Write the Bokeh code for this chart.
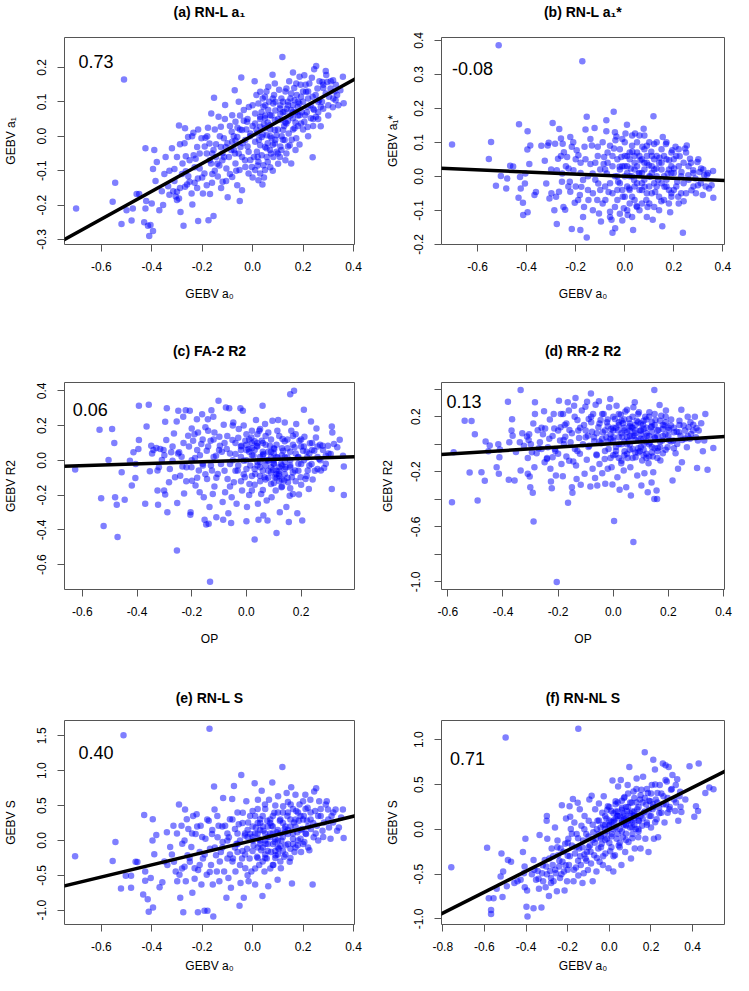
from bokeh.plotting import figure
from bokeh.layouts import column, row
from bokeh.models import Slope, Label, FixedTicker, Range1d, PrintfTickFormatter, LinearAxis
from bokeh.embed import file_html
from bokeh.resources import INLINE

# ---------------- data ----------------
titles = ["(a) RN-L a\u2081", "(b) RN-L a\u2081*", "(c) FA-2 R2", "(d) RR-2 R2", "(e) RN-L S", "(f) RN-NL S"]
x_labels = ["GEBV a\u2080", "GEBV a\u2080", "OP", "OP", "GEBV a\u2080", "GEBV a\u2080"]
y_labels = ["GEBV a\u2081", "GEBV a\u2081*", "GEBV R2", "GEBV R2", "GEBV S", "GEBV S"]
r_values = ["0.73", "-0.08", "0.06", "0.13", "0.40", "0.71"]
# regression line: (intercept, slope)
fits = [(0.002, 0.405), (0.0004, -0.031), (0.0, 0.051), (0.004, 0.127), (-0.001, 0.871), (0.0, 1.168)]

a_pts = [(-0.70,-0.21),(-0.545,-0.135),(-0.555,-0.19),(-0.51,0.165),(-0.52,-0.255),(-0.50,-0.215),(-0.48,-0.245),(-0.475,-0.21),(-0.46,-0.168),(-0.45,-0.168),(-0.43,-0.25),(-0.425,-0.035),(-0.425,-0.21),(-0.422,-0.188),(-0.415,-0.26),(-0.41,-0.29),(-0.405,-0.258),
(-0.395,-0.275),(-0.40,-0.195),(-0.39,-0.04),(-0.395,-0.095),(-0.38,-0.075),(-0.385,-0.13),(-0.37,-0.215),(-0.355,-0.20),(-0.345,-0.06),(-0.335,-0.145),(-0.33,-0.10),(-0.32,-0.035),(-0.315,-0.16),(-0.31,-0.095),(-0.305,-0.175),(-0.30,-0.185),
(-0.292,0.031),(-0.268,0.023),(-0.288,-0.023),(-0.265,-0.058),(-0.256,-0.002),(-0.235,0.01),(-0.278,-0.079),(-0.265,-0.102),(-0.25,-0.132),(-0.288,-0.15),(-0.30,-0.161),(-0.292,-0.181),(-0.286,-0.22),(-0.274,-0.26),(-0.239,-0.198),(-0.23,-0.135),(-0.217,-0.123),(-0.21,-0.094),(-0.226,-0.065),(-0.234,-0.055),(-0.22,-0.031),(-0.203,-0.006),(-0.216,0.02),(-0.268,-0.147),(-0.255,-0.116),(-0.242,-0.166),
(-0.153,0.112),(-0.164,0.066),(-0.177,0.025),(-0.187,-0.004),(-0.171,-0.021),(-0.145,-0.023),(-0.126,0.028),(-0.114,-0.006),(-0.109,0.091),(-0.135,0.057),(-0.182,-0.05),(-0.165,-0.079),(-0.191,-0.108),(-0.182,-0.142),(-0.161,-0.135),(-0.197,-0.166),(-0.169,-0.168),(-0.155,-0.232),(-0.175,-0.244),(-0.216,-0.246),(-0.138,-0.117),(-0.119,-0.132),(-0.132,-0.085),(-0.113,-0.06),(-0.145,-0.06),(-0.104,-0.094),(-0.126,-0.031),(-0.107,-0.031),
(-0.071,0.134),(-0.045,0.171),(-0.055,0.10),(-0.035,0.076),(-0.081,0.061),(-0.068,0.042),(-0.083,0.013),(-0.061,-0.002),(-0.042,0.018),(-0.022,0.042),(-0.009,0.008),(-0.029,-0.011),(-0.048,-0.031),(-0.074,-0.04),(-0.094,-0.06),(-0.068,-0.079),(-0.042,-0.06),(-0.016,-0.045),(-0.052,-0.098),(-0.029,-0.089),(-0.009,-0.069),(-0.081,-0.118),(-0.099,-0.177),(-0.051,-0.188),(-0.042,-0.157),(-0.061,-0.142),(-0.016,-0.108),(-0.003,-0.089),(-0.068,-0.012),(-0.081,-0.016),
(0.008,0.16),(0.03,0.129),(0.049,0.115),(0.062,0.144),(0.079,0.179),(0.088,0.153),(0.023,0.095),(0.043,0.086),(0.062,0.076),(0.082,0.095),(0.01,0.066),(0.03,0.057),(0.049,0.052),(0.069,0.061),(0.088,0.047),(0.01,0.037),(0.03,0.028),(0.049,0.023),(0.069,0.032),(0.088,0.018),(0.017,0.008),(0.036,-0.002),(0.056,0.003),(0.075,-0.006),(0.095,0.003),(0.01,-0.016),(0.03,-0.026),(0.049,-0.031),(0.069,-0.04),(0.088,-0.021),(0.017,-0.045),(0.036,-0.055),(0.056,-0.06),(0.023,-0.074),(0.043,-0.084),(0.01,-0.098),(0.03,-0.108),(0.049,-0.098),(0.039,-0.14),(0.023,-0.128),(0.073,-0.05),(0.082,-0.06),(0.101,-0.08),
(0.118,0.23),(0.16,0.185),(0.134,0.139),(0.153,0.124),(0.173,0.153),(0.186,0.173),(0.114,0.11),(0.14,0.1),(0.166,0.105),(0.192,0.115),(0.108,0.081),(0.127,0.071),(0.153,0.076),(0.179,0.086),(0.114,0.047),(0.134,0.037),(0.16,0.052),(0.186,0.061),(0.121,0.018),(0.143,0.008),(0.166,0.023),(0.127,-0.011),(0.147,-0.026),(0.173,-0.006),(0.114,-0.04),(0.134,-0.05),(0.153,-0.079),(0.186,-0.024),(0.108,-0.06),(0.192,0.037),
(0.205,0.177),(0.244,0.195),(0.252,0.204),(0.225,0.153),(0.257,0.139),(0.277,0.158),(0.212,0.129),(0.238,0.115),(0.264,0.105),(0.29,0.124),(0.218,0.086),(0.244,0.076),(0.27,0.086),(0.208,0.061),(0.231,0.052),(0.205,0.042),(0.27,0.029),(0.238,-0.061),(0.218,0.027),(0.251,0.057),
(0.292,0.178),(0.296,0.158),(0.319,0.163),(0.358,0.173),(0.361,0.096),(0.318,0.084),(0.335,0.12),(0.348,0.134),(0.309,0.139),(0.329,0.105),(0.303,0.115),
(0.0,0.03),(0.05,0.06),(0.1,0.02),(0.12,0.07),(0.07,0.0),(0.03,0.05),(-0.02,-0.03),(0.14,0.09),(0.09,0.1),(0.11,-0.03),(0.06,-0.02),(0.04,0.11),(0.13,0.13),(0.16,0.07),(0.18,0.1),(0.08,-0.1),(0.02,-0.06),(-0.05,0.02),(-0.07,-0.05),(0.2,0.13),(0.22,0.11),(0.24,0.08),(0.26,0.1),(0.28,0.15),(0.17,0.04),(-0.12,-0.07),(-0.15,-0.1),(-0.16,-0.05),(-0.09,-0.11),(0.0,-0.12),
(-0.02,0.05),(0.0,0.09),(0.015,0.12),(0.025,-0.01),(0.035,0.07),(0.045,0.035),(0.055,0.13),(0.06,-0.075),(0.065,0.1),(0.07,0.02),(0.075,0.06),(0.08,-0.025),(0.085,0.12),(0.09,0.075),(0.095,-0.045),(0.1,0.05),(0.105,0.135),(0.11,0.065),(0.115,0.0),(0.12,0.1),(0.125,0.03),(0.13,-0.07),(0.135,0.08),(0.14,0.045),(0.145,0.16),(0.15,0.11),(0.155,-0.01),(0.16,0.09),(0.165,0.14),(0.17,0.07),(0.175,0.12),(0.18,0.03),(0.185,0.095),(0.19,0.15),(0.195,0.07),(0.2,0.1),(0.21,0.15),(0.215,0.07),(0.22,0.13),(0.23,0.09),(0.235,0.17),(0.24,0.05),(0.25,0.12),(0.26,0.07),(0.265,0.16),(0.275,0.1),(0.28,0.14),(0.3,0.09),(0.31,0.16),(0.325,0.13),
(-0.01,0.0),(-0.015,0.085),(-0.025,0.02),(-0.03,-0.07),(-0.035,0.045),(-0.04,-0.02),(-0.05,0.06),(-0.055,-0.05),(-0.06,0.025),(-0.065,-0.1),(-0.075,0.0),(-0.085,-0.04),(-0.09,0.03),(-0.1,-0.02),(-0.105,-0.13),(-0.11,0.05),(-0.12,-0.05),(-0.125,-0.15),(-0.13,0.0),(-0.14,-0.08),(-0.15,0.02),(-0.155,-0.04),(-0.16,-0.11),(-0.17,-0.07),(-0.18,0.0),(-0.19,-0.03),(-0.2,-0.12),(-0.21,-0.05),(-0.22,-0.15),(-0.23,-0.09),(-0.24,0.0),(-0.25,-0.07),(-0.26,-0.14),(-0.27,-0.02),(-0.28,-0.11),(-0.3,-0.06),(-0.31,-0.13),(-0.33,-0.17),(-0.35,-0.11),(-0.36,-0.16),
(0.005,-0.06),(0.015,0.02),(0.02,-0.085),(0.04,0.005),(0.045,-0.12),(0.05,0.09),(0.055,-0.035),(0.06,0.04),(0.07,-0.09),(0.08,0.11),(0.09,-0.01),(0.1,-0.05),(0.11,0.09),(0.12,-0.01),(0.13,0.04),(0.14,-0.03),(0.15,0.06),(0.16,0.02),(0.17,-0.04),(0.18,0.06),(0.2,0.02),(0.22,0.0),(0.24,0.03),(0.26,0.05),(0.28,0.08),(0.3,0.06),(0.32,0.11),(0.34,0.09),(0.33,0.15),(0.29,0.19)]

b_pts = [(-0.704,0.094),(-0.514,0.386),(-0.173,0.339),(-0.545,0.101),(-0.554,0.051),(-0.505,0.001),(-0.525,-0.028),(-0.483,-0.036),(-0.467,0.031),(-0.455,0.029),(-0.479,-0.006),
(-0.431,0.153),(-0.396,0.133),(-0.385,0.091),(-0.397,0.079),(-0.389,0.036),(-0.405,0.008),(-0.427,-0.002),(-0.424,-0.036),(-0.433,-0.063),(-0.415,-0.078),(-0.414,-0.114),(-0.396,-0.106),(-0.407,-0.021),
(-0.362,-0.046),(-0.368,-0.055),(-0.34,0.09),(-0.326,0.046),(-0.314,0.091),(-0.32,-0.021),(-0.31,0.099),(-0.294,0.157),(-0.284,0.096),(-0.299,-0.05),(-0.307,-0.065),(-0.287,-0.1),(-0.277,-0.14),(-0.267,0.139),(-0.26,0.111),(-0.253,0.096),(-0.248,0.071),(-0.272,0.052),(-0.277,0.018),(-0.255,0.008),(-0.256,-0.016),(-0.268,-0.045),(-0.243,-0.098),(-0.222,-0.045),(-0.224,-0.016),(-0.216,-0.155),(-0.222,0.116),(-0.216,0.087),(-0.235,0.057),(-0.229,0.023),(-0.209,0.018),(-0.196,0.077),(-0.189,0.062),(-0.204,-0.078),(-0.181,-0.158),(-0.183,-0.055),(-0.177,-0.031),(-0.17,-0.011),(-0.164,0.087),(-0.16,0.138),(-0.155,0.175),(-0.155,-0.18),(-0.166,-0.09),(-0.148,-0.07),(-0.14,0.036),(-0.131,0.008),(-0.134,0.091),(-0.123,0.142),(-0.11,0.087),(-0.108,-0.021),(-0.112,-0.07),(-0.105,-0.109),(-0.097,-0.133),
(-0.084,0.057),(-0.075,0.133),(-0.075,0.165),(-0.086,0.036),(-0.073,0.008),(-0.066,-0.046),(-0.079,-0.07),(-0.06,-0.104),(-0.054,-0.128),(-0.05,-0.166),(-0.045,0.19),(-0.044,0.082),(-0.038,0.106),(-0.034,0.117),(-0.039,-0.153),(-0.027,-0.016),(-0.021,0.028),(-0.014,0.057),(-0.008,-0.06),(-0.004,-0.094),(0.003,0.126),(0.009,0.152),(0.012,-0.114),(0.018,-0.036),(0.025,0.023),(0.031,0.072),(0.038,-0.011),(0.042,0.126),(0.034,-0.158),(0.048,-0.087),(0.057,0.008),(0.064,0.047),(0.072,0.087),(0.077,0.14),(0.081,-0.031),(0.088,-0.07),(0.093,-0.09),(0.098,0.033),(0.103,-0.001),(0.108,0.072),(0.114,-0.128),(0.117,0.177),(0.12,0.095),(0.124,-0.046),(0.129,0.023),(0.136,-0.011),(0.142,0.055),(0.149,-0.073),(0.153,-0.147),(0.155,0.116),(0.162,-0.031),(0.168,0.095),(0.175,0.008),(0.181,0.047),(0.185,-0.106),(0.19,-0.05),(0.194,0.077),(0.201,0.023),(0.207,0.087),(0.214,-0.016),(0.218,-0.06),(0.224,0.059),(0.231,0.013),(0.237,-0.166),(0.24,-0.073),(0.246,0.082),(0.253,0.091),(0.259,0.003),(0.266,0.052),(0.272,-0.041),(0.279,0.018),(0.288,-0.006),(0.296,0.042),(0.298,-0.026),(0.305,0.013),(0.311,0.023),(0.318,-0.055),(0.324,0.003),(0.335,0.005),(0.344,-0.036),(0.354,-0.026),(0.36,0.016),(0.361,-0.063),
(-0.05,0.03),(-0.03,-0.04),(0.0,0.0),(0.02,0.05),(0.05,-0.02),(0.07,0.01),(0.09,-0.05),(0.11,0.03),(0.04,-0.07),(0.06,0.06),(-0.02,0.02),(0.01,-0.03),(0.03,0.09),(0.08,0.04),(0.12,-0.02),(0.15,0.02),(0.14,-0.06),(0.17,-0.03),(0.19,0.01),(0.2,-0.04),(0.22,0.03),(0.24,-0.02),(0.0,0.06),(-0.06,-0.02),(-0.08,0.02),(-0.1,-0.04),(-0.12,0.04),(-0.04,-0.09),(0.02,-0.08),(0.06,-0.1),(0.1,-0.08),(0.13,0.06),(0.05,0.1),(-0.01,0.11),(0.08,0.12),(0.03,-0.12),(-0.02,-0.11),(0.16,0.06),(0.18,-0.08),(0.21,0.06),(0.26,0.03),(0.28,-0.03),(0.25,-0.05),(0.09,0.09),(-0.07,0.07),(-0.15,0.0),(-0.18,0.04),(-0.2,-0.03),(-0.13,-0.05),(0.04,0.02),(0.07,-0.04),(0.01,0.03),(-0.03,0.0),
(-0.3,0.02),(-0.28,-0.06),(-0.26,0.06),(-0.25,-0.09),(-0.24,0.03),(-0.23,-0.03),(-0.21,0.1),(-0.2,0.05),(-0.19,-0.07),(-0.18,0.01),(-0.17,-0.12),(-0.16,0.05),(-0.15,-0.04),(-0.14,0.11),(-0.13,-0.1),(-0.12,-0.01),(-0.11,0.06),(-0.1,0.02),(-0.09,-0.08),(-0.09,0.1),(-0.08,-0.03),(-0.07,0.04),(-0.06,-0.12),(-0.06,0.09),(-0.05,-0.05),(-0.05,0.06),(-0.04,0.0),(-0.04,0.13),(-0.03,-0.07),(-0.03,0.05),(-0.02,-0.02),(-0.02,0.08),(-0.01,-0.13),(-0.01,0.03),(0.0,-0.06),(0.0,0.1),(0.01,0.01),(0.01,-0.1),(0.02,0.07),(0.02,-0.04),(0.03,0.0),(0.03,0.12),(0.04,-0.03),(0.04,0.06),(0.05,0.03),(0.05,-0.09),(0.06,-0.04),(0.06,0.12),(0.07,0.05),(0.07,-0.08),(0.08,-0.01),(0.08,0.08),(0.09,0.04),(0.09,-0.12),(0.1,0.0),(0.1,0.1),(0.11,-0.05),(0.11,0.06),(0.12,0.02),(0.12,-0.09),(0.13,-0.03),(0.13,0.1),(0.14,0.04),(0.14,-0.1),(0.15,-0.02),(0.15,0.08),(0.16,0.0),(0.16,-0.07),(0.17,0.05),(0.17,0.1),(0.18,-0.04),(0.18,0.02),(0.19,0.07),(0.19,-0.06),(0.2,0.01),(0.2,0.05),(0.21,-0.03),(0.22,-0.08),(0.22,0.08),(0.23,0.0),(0.23,-0.05),(0.24,0.04),(0.25,0.07),(0.26,-0.01),(0.27,0.04),(0.28,0.01),(0.29,-0.05),(0.3,0.05),(0.31,-0.02),(0.32,0.02),(0.33,-0.03),(0.34,0.01),(0.0,0.03),(0.02,0.0),(0.04,0.04),(0.06,0.01),(0.08,0.02),(0.1,-0.03),(0.12,0.05),(0.03,-0.06),(0.07,-0.02),(0.11,0.01),(0.09,0.06),(0.05,0.07),(0.01,0.06),(-0.01,-0.04),(0.13,0.0),(0.15,0.04),(0.17,-0.01),(0.19,0.03)]

c_pts = [(-0.626,-0.053),(-0.537,0.176),(-0.491,0.18),(-0.504,0.002),(-0.483,0.1),(-0.531,-0.218),(-0.522,-0.378),(-0.48,-0.212),(-0.474,-0.256),(-0.471,-0.441),(-0.456,-0.068),(-0.445,-0.226),(-0.426,-0.002),(-0.419,-0.145),(-0.413,0.046),(-0.406,-0.101),(-0.395,0.065),(-0.393,0.117),(-0.393,0.314),(-0.405,-0.021),(-0.37,-0.25),(-0.365,0.195),(-0.357,0.32),(-0.353,-0.063),(-0.348,0.084),(-0.345,0.04),(-0.329,0.071),(-0.325,-0.059),(-0.325,-0.174),(-0.323,-0.256),(-0.315,0.065),(-0.309,0.002),(-0.303,0.059),(-0.301,-0.174),(-0.297,0.222),(-0.293,0.117),(-0.297,-0.197),(-0.291,0.3),(-0.289,-0.298),(-0.283,-0.126),(-0.275,0.046),(-0.27,-0.002),(-0.265,0.155),(-0.261,-0.097),(-0.255,0.224),(-0.254,-0.518),(-0.253,-0.245),(-0.249,0.285),(-0.246,0.046),(-0.242,-0.088),(-0.237,0.021),(-0.234,-0.036),(-0.231,0.251),(-0.228,-0.191),(-0.222,0.289),(-0.219,-0.04),(-0.213,0.142),(-0.207,0.285),(-0.204,-0.298),(-0.205,-0.313),(-0.2,0.184),(-0.201,-0.04),(-0.199,-0.117),(-0.195,0.113),(-0.188,0.013),(-0.186,-0.145),(-0.181,0.237),(-0.177,0.161),(-0.174,-0.059),(-0.171,-0.183),(-0.165,0.094),(-0.162,0.266),(-0.159,-0.03),(-0.156,-0.212),(-0.153,-0.342),(-0.15,0.19),(-0.147,-0.369),(-0.145,0.055),(-0.144,-0.107),(-0.141,0.237),(-0.138,-0.365),(-0.135,-0.269),(-0.133,-0.699),(-0.131,0.113),(-0.128,0.289),(-0.126,-0.059),(-0.123,-0.193),(-0.121,0.251),(-0.117,0.161),(-0.117,-0.151),(-0.111,0.027),(-0.11,-0.327),(-0.105,-0.078),(-0.102,0.343),(-0.099,0.136),(-0.097,0.084),(-0.093,-0.021),(-0.087,-0.24),(-0.085,-0.342),(-0.083,0.205),(-0.078,-0.183),(-0.075,0.304),(-0.072,0.065),(-0.069,-0.107),(-0.066,-0.304),(-0.063,0.3),(-0.06,-0.021),(-0.056,-0.361),(-0.054,-0.212),(-0.051,0.117),(-0.048,0.218),(-0.046,-0.126),(-0.04,0.036),(-0.036,-0.25),(-0.032,-0.059),(-0.028,0.18),(-0.022,0.3),(-0.018,0.084),(-0.016,-0.174),(-0.013,0.285),(-0.01,-0.002),(-0.006,-0.097),(-0.004,0.113),(0.0,-0.35),(0.002,-0.269),(0.008,0.065),(0.011,-0.136),(0.014,-0.03),(0.018,0.132),(0.02,-0.174),(0.026,0.027),(0.03,-0.455),(0.032,-0.078),(0.035,0.232),(0.038,0.084),(0.042,-0.25),(0.044,-0.342),(0.047,0.171),(0.05,-0.04),(0.054,-0.193),(0.056,0.113),(0.059,0.314),(0.062,0.036),(0.062,-0.317),(0.066,-0.097),(0.068,0.209),(0.074,-0.231),(0.077,-0.346),(0.08,-0.002),(0.086,0.084),(0.09,-0.136),(0.092,-0.212),(0.095,0.228),(0.098,-0.055),(0.102,0.065),(0.104,-0.097),(0.107,-0.174),(0.11,-0.418),(0.113,0.171),(0.114,0.017),(0.116,0.232),(0.119,-0.078),(0.122,-0.298),(0.126,-0.021),(0.128,-0.155),(0.132,0.123),(0.134,0.055),(0.138,-0.116),(0.14,0.218),(0.143,-0.04),(0.146,-0.269),(0.15,0.017),(0.152,-0.126),(0.155,-0.355),(0.158,-0.203),(0.16,0.381),(0.164,0.171),(0.166,-0.097),(0.17,-0.193),(0.174,0.4),(0.176,0.075),(0.178,-0.059),(0.182,0.209),(0.186,-0.304),(0.188,0.017),(0.192,-0.197),(0.194,0.113),(0.198,-0.097),(0.2,-0.021),(0.204,-0.346),(0.207,0.055),(0.21,0.291),(0.212,0.136),(0.216,-0.107),(0.222,0.017),(0.224,-0.059),(0.228,-0.165),(0.232,0.098),(0.236,0.224),(0.238,-0.021),(0.242,-0.11),(0.248,0.055),(0.254,0.132),(0.256,0.184),(0.26,-0.049),(0.266,0.008),(0.269,0.09),(0.272,-0.059),(0.278,0.084),(0.284,-0.044),(0.29,0.027),(0.298,0.084),(0.308,0.036),(0.312,0.195),(0.314,0.161),(0.312,-0.165),(0.32,0.094),(0.332,0.075),(0.341,0.119),(0.353,0.027),(0.356,-0.036),(0.356,-0.199),
(-0.02,0.06),(0.0,0.09),(0.02,0.03),(0.04,-0.01),(0.06,0.1),(0.08,0.05),(0.1,-0.02),(0.12,-0.06),(0.14,0.02),(0.16,-0.04),(0.11,-0.1),(0.09,-0.07),(0.05,0.02),(0.03,-0.05),(0.01,0.12),(-0.04,0.1),(0.13,0.07),(0.15,0.12),(0.17,0.14),(0.07,-0.03),(0.1,0.04),(0.12,-0.12),(0.14,-0.08),(0.06,-0.06),(0.0,0.0),(-0.06,0.04),(-0.08,0.1),(0.18,0.04),(0.2,0.08),(0.22,0.05),(0.19,-0.02),(0.02,0.07),(0.04,0.15),(0.08,-0.1),(0.11,0.09),(0.13,-0.03),(0.16,0.05),(0.09,0.02),(-0.03,-0.03),(-0.1,0.06),(-0.12,0.02),(-0.14,0.08),(-0.16,-0.02),(-0.18,0.06),(0.05,-0.12),(0.03,0.11),(-0.01,-0.08),(0.07,0.14),(0.24,0.06),(0.26,0.02),
(-0.09,0.05),(-0.08,-0.06),(-0.07,0.14),(-0.06,-0.15),(-0.05,0.0),(-0.05,0.2),(-0.04,-0.06),(-0.03,0.13),(-0.02,-0.12),(-0.02,0.02),(-0.01,0.2),(0.0,-0.05),(0.0,0.15),(0.01,0.05),(0.01,-0.2),(0.02,-0.09),(0.02,0.17),(0.03,0.06),(0.03,-0.14),(0.04,0.1),(0.04,-0.03),(0.05,0.18),(0.05,-0.09),(0.06,0.03),(0.06,-0.17),(0.07,0.09),(0.07,-0.11),(0.08,0.0),(0.08,0.16),(0.09,-0.04),(0.09,0.12),(0.1,-0.13),(0.1,0.07),(0.11,-0.06),(0.11,0.02),(0.12,0.14),(0.12,-0.09),(0.13,-0.15),(0.13,0.03),(0.14,0.11),(0.14,-0.05),(0.15,-0.1),(0.15,0.07),(0.16,-0.16),(0.16,0.0),(0.17,0.09),(0.17,-0.07),(0.18,-0.12),(0.18,0.15),(0.19,0.02),(0.19,-0.06),(0.2,0.12),(0.2,-0.14),(0.21,0.0),(0.21,0.08),(0.22,-0.09),(0.23,0.04),(0.23,-0.03),(0.24,0.1),(0.25,-0.06),(0.26,0.08),(0.27,0.0),(0.28,0.06),(0.29,-0.02),(0.3,0.04),(-0.11,-0.1),(-0.12,0.12),(-0.13,-0.03),(-0.14,0.17),(-0.15,-0.08),(-0.16,0.12),(-0.17,0.03),(-0.18,-0.1),(-0.19,0.15),(-0.2,0.0),(-0.21,0.08),(-0.22,-0.12),(-0.23,0.1),(-0.25,0.04),(-0.27,0.08),(-0.28,-0.05),(-0.3,0.03),(-0.32,-0.04),(-0.34,0.06),(0.1,-0.02),(0.12,-0.04),(0.08,-0.06),(0.06,0.05),(0.04,0.08),(0.02,0.1),(0.0,0.06),(-0.02,0.08),(0.14,-0.01),(0.16,-0.03),(0.1,0.0),(0.11,-0.08),(0.13,-0.11),(0.09,0.05),(0.05,-0.01),(0.07,0.0)]

d_pts = [(-0.585,-0.421),(-0.579,-0.058),(-0.539,0.171),(-0.514,0.169),(-0.521,-0.206),(-0.502,0.072),(-0.492,-0.409),(-0.478,-0.203),(-0.466,-0.266),(-0.463,0.019),(-0.453,-0.051),(-0.448,-0.01),(-0.423,-0.167),(-0.417,0.0),(-0.415,-0.215),(-0.413,-0.095),(-0.411,-0.039),(-0.382,0.309),(-0.379,-0.259),(-0.377,0.014),(-0.369,0.099),(-0.367,0.181),(-0.365,0.062),(-0.358,-0.264),(-0.353,-0.056),(-0.339,0.014),(-0.336,0.393),(-0.336,-0.191),(-0.324,-0.012),(-0.313,0.056),(-0.31,-0.215),(-0.307,0.031),(-0.305,0.072),(-0.303,-0.235),(-0.301,-0.312),(-0.299,0.0),(-0.295,-0.058),(-0.292,-0.353),(-0.289,-0.561),(-0.286,-0.167),(-0.284,0.219),(-0.284,0.304),(-0.278,-0.065),(-0.274,0.101),(-0.266,0.014),(-0.26,-0.034),(-0.255,0.072),(-0.251,0.239),(-0.249,-0.131),(-0.247,0.114),(-0.241,-0.107),(-0.237,-0.022),(-0.232,0.039),(-0.228,-0.179),(-0.226,-0.271),(-0.223,-0.319),(-0.22,-0.095),(-0.216,0.219),(-0.214,0.114),(-0.212,-0.034),(-0.208,-0.227),(-0.205,-1.0),(-0.2,-0.07),(-0.197,0.316),(-0.193,0.026),(-0.191,0.123),(-0.188,-0.143),(-0.183,-0.232),(-0.182,0.219),(-0.179,0.0),(-0.176,0.14),(-0.174,0.055),(-0.17,-0.09),(-0.165,0.304),(-0.164,-0.426),(-0.161,0.244),(-0.159,0.104),(-0.155,0.014),(-0.15,-0.312),(-0.148,-0.353),(-0.145,-0.126),(-0.142,0.28),(-0.139,-0.034),(-0.137,0.335),(-0.135,-0.155),(-0.133,-0.252),(-0.13,0.176),(-0.127,0.099),(-0.124,0.045),(-0.121,-0.07),(-0.118,-0.295),(-0.114,0.244),(-0.11,0.0),(-0.106,0.14),(-0.104,-0.215),(-0.101,0.272),(-0.096,-0.112),(-0.095,0.309),(-0.092,0.062),(-0.089,0.183),(-0.087,-0.012),(-0.083,-0.307),(-0.081,0.369),(-0.077,0.091),(-0.075,-0.179),(-0.073,0.219),(-0.069,0.021),(-0.066,-0.245),(-0.064,0.287),(-0.061,-0.075),(-0.058,-0.3),(-0.054,0.123),(-0.052,0.311),(-0.05,-0.143),(-0.046,0.176),(-0.043,0.007),(-0.04,-0.211),(-0.038,0.087),(-0.035,0.219),(-0.031,-0.107),(-0.029,-0.288),(-0.025,0.051),(-0.023,0.159),(-0.02,-0.179),(-0.017,-0.034),(-0.015,0.268),(-0.011,0.328),(-0.008,0.111),(-0.006,-0.167),(-0.003,-0.293),(0.0,0.026),(0.003,-0.558),(0.006,0.183),(0.008,-0.075),(0.012,0.28),(0.015,-0.24),(0.018,0.099),(0.02,0.0),(0.023,-0.331),(0.027,0.213),(0.029,-0.138),(0.033,0.055),(0.035,0.152),(0.038,-0.191),(0.041,-0.051),(0.044,0.237),(0.047,-0.312),(0.05,0.087),(0.052,-0.1),(0.056,0.026),(0.058,0.183),(0.062,-0.167),(0.064,-0.372),(0.066,0.123),(0.07,-0.034),(0.073,0.268),(0.073,-0.711),(0.076,0.062),(0.078,0.304),(0.081,-0.095),(0.085,0.171),(0.087,-0.227),(0.091,0.026),(0.093,0.232),(0.096,-0.051),(0.099,0.099),(0.102,-0.3),(0.105,-0.119),(0.108,0.142),(0.11,0.0),(0.113,-0.211),(0.116,0.2),(0.12,-0.07),(0.122,0.062),(0.125,-0.348),(0.128,-0.138),(0.131,0.232),(0.133,0.012),(0.137,0.123),(0.139,-0.278),(0.143,-0.09),(0.145,-0.203),(0.149,0.393),(0.149,-0.397),(0.151,0.045),(0.153,0.176),(0.157,-0.336),(0.159,-0.397),(0.162,-0.027),(0.164,0.104),(0.168,0.285),(0.171,-0.119),(0.174,0.207),(0.178,0.026),(0.18,-0.065),(0.186,0.135),(0.189,0.07),(0.191,0.244),(0.197,-0.022),(0.201,0.104),(0.203,0.026),(0.209,0.135),(0.215,-0.264),(0.217,0.026),(0.22,0.087),(0.226,-0.065),(0.232,0.002),(0.235,-0.179),(0.238,0.087),(0.244,0.062),(0.247,0.251),(0.249,-0.131),(0.255,0.135),(0.261,0.039),(0.267,-0.022),(0.27,0.2),(0.273,0.123),(0.278,0.039),(0.282,0.074),(0.29,0.142),(0.296,0.2),(0.302,0.118),(0.304,-0.172),(0.307,0.026),(0.319,0.152),(0.325,-0.051),(0.33,0.026),(0.334,0.219),(0.342,-0.186),(0.363,-0.027),
(0.0,0.1),(0.02,0.05),(0.04,0.12),(0.06,0.0),(0.08,0.08),(0.1,0.15),(0.12,0.02),(0.14,0.09),(0.16,-0.05),(0.05,-0.07),(0.03,0.17),(-0.02,0.13),(-0.04,0.04),(0.09,-0.03),(0.11,0.11),(0.13,-0.09),(0.07,0.06),(0.01,-0.02),(0.15,0.14),(0.18,0.11),(0.2,0.06),(0.22,0.12),(0.24,0.17),(-0.06,0.08),(-0.08,0.16),(-0.1,0.05),(0.0,-0.08),(0.03,-0.12),(0.06,0.15),(0.1,0.07),(0.12,0.18),(0.17,0.02),(0.19,0.16),(0.04,0.02),(0.08,-0.06),(-0.01,0.07),(0.14,-0.02),(0.11,-0.08),(0.06,0.1),(0.02,0.14),
(-0.1,0.1),(-0.09,-0.02),(-0.08,0.2),(-0.07,0.05),(-0.06,-0.08),(-0.05,0.15),(-0.05,0.02),(-0.04,0.22),(-0.03,-0.05),(-0.03,0.1),(-0.02,0.02),(-0.02,0.18),(-0.01,-0.1),(0.0,0.05),(0.0,0.2),(0.01,0.12),(0.01,-0.05),(0.02,0.22),(0.02,-0.1),(0.03,0.08),(0.03,0.0),(0.04,0.18),(0.04,-0.08),(0.05,0.05),(0.05,0.25),(0.06,-0.04),(0.06,0.13),(0.07,0.2),(0.07,-0.1),(0.08,0.03),(0.08,0.14),(0.09,0.22),(0.09,-0.06),(0.1,0.1),(0.1,-0.02),(0.11,0.17),(0.11,0.04),(0.12,-0.1),(0.12,0.08),(0.13,0.2),(0.13,0.0),(0.14,0.13),(0.14,-0.06),(0.15,0.05),(0.15,0.22),(0.16,0.1),(0.16,-0.1),(0.17,0.17),(0.17,-0.02),(0.18,0.06),(0.19,0.2),(0.19,-0.04),(0.2,0.12),(0.21,0.02),(0.21,0.18),(0.22,-0.03),(0.23,0.09),(0.24,0.14),(0.25,0.03),(0.26,0.1),(0.27,0.06),(0.28,0.16),(0.29,0.1),(0.3,0.05),(0.31,0.1),(-0.12,0.12),(-0.13,-0.05),(-0.14,0.2),(-0.15,0.08),(-0.16,-0.12),(-0.17,0.15),(-0.18,0.03),(-0.19,0.22),(-0.2,0.1),(-0.21,-0.05),(-0.22,0.06),(-0.23,0.18),(-0.24,-0.1),(-0.26,0.12),(-0.27,-0.03),(-0.29,0.15),(-0.31,-0.1),(-0.33,0.08),(0.0,0.12),(0.02,0.16),(0.04,0.1),(0.06,0.06),(0.08,0.1),(0.1,0.04),(0.12,0.12),(0.14,0.16),(0.16,0.06),(0.18,0.14),(0.05,0.0),(0.07,0.12),(0.09,0.16),(0.11,-0.04),(0.13,0.06),(0.15,-0.03),(-0.01,0.04)]

e_pts = [(-0.704,-0.225),(-0.544,-0.023),(-0.555,-0.295),(-0.512,1.508),(-0.522,-0.689),(-0.503,-0.506),(-0.482,-0.506),(-0.482,-0.679),(-0.457,-0.309),(-0.464,-0.304),(-0.434,-0.773),(-0.43,0.365),(-0.426,-0.445),(-0.426,-0.576),(-0.416,-0.843),(-0.412,-1.021),(-0.404,-0.539),(-0.396,0.304),(-0.397,0.0),(-0.395,-0.96),(-0.39,-0.197),(-0.382,0.08),(-0.369,-0.67),(-0.358,-0.6),(-0.34,0.117),(-0.338,-0.351),(-0.327,-0.094),(-0.314,0.211),(-0.312,-0.304),(-0.305,-0.445),(-0.299,-0.585),(-0.292,0.515),(-0.29,-0.492),(-0.287,-0.82),(-0.282,0.211),(-0.279,-0.047),(-0.275,-1.03),(-0.27,-0.375),(-0.268,0.445),(-0.265,-0.585),(-0.261,0.304),(-0.258,-0.211),(-0.255,0.164),(-0.249,-0.304),(-0.243,-0.094),(-0.239,-0.749),(-0.236,0.351),(-0.23,-0.398),(-0.226,0.094),(-0.222,0.375),(-0.217,-1.03),(-0.216,-0.422),(-0.21,-0.164),(-0.206,0.211),(-0.203,-0.632),(-0.197,-0.258),(-0.191,-1.007),(-0.187,0.023),(-0.182,-0.492),(-0.179,-1.007),(-0.174,0.281),(-0.171,1.602),(-0.169,-0.117),(-0.165,-0.351),(-0.161,0.094),(-0.158,-0.632),(-0.156,-1.091),(-0.153,0.773),(-0.151,0.445),(-0.145,-0.211),(-0.142,-0.445),(-0.139,0.047),(-0.135,0.211),(-0.132,-0.585),(-0.126,-0.164),(-0.119,-0.023),(-0.117,0.609),(-0.113,-0.445),(-0.109,0.211),(-0.104,-0.82),(-0.1,-0.258),(-0.096,-0.539),(-0.094,0.047),(-0.09,0.304),(-0.086,-0.679),(-0.081,0.595),(-0.078,-0.258),(-0.074,0.782),(-0.07,0.164),(-0.068,-0.445),(-0.064,-0.047),(-0.06,-0.164),(-0.055,0.234),(-0.052,-0.937),(-0.048,-0.609),(-0.045,0.937),(-0.042,-0.258),(-0.039,0.398),(-0.035,-0.82),(-0.031,0.07),(-0.029,-0.398),(-0.025,0.562),(-0.022,-0.117),(-0.018,0.258),(-0.016,-0.585),(-0.012,-0.258),(-0.009,0.094),(-0.005,-0.445),(0.0,0.422),(0.004,-0.07),(0.008,0.82),(0.01,-0.632),(0.013,0.187),(0.017,-0.234),(0.021,0.585),(0.023,0.023),(0.026,-0.351),(0.03,0.304),(0.034,-0.141),(0.036,0.712),(0.039,-0.796),(0.043,0.141),(0.047,-0.445),(0.049,0.515),(0.052,-0.047),(0.056,-0.258),(0.058,0.281),(0.062,-0.656),(0.065,0.585),(0.069,0.047),(0.073,-0.164),(0.075,0.211),(0.078,0.829),(0.082,-0.351),(0.086,0.398),(0.088,-0.023),(0.091,-0.211),(0.095,0.117),(0.099,-0.562),(0.101,0.632),(0.104,-0.117),(0.108,0.281),(0.112,-0.398),(0.114,0.0),(0.118,1.054),(0.121,0.492),(0.125,-0.234),(0.127,0.164),(0.131,-0.07),(0.135,0.679),(0.138,0.351),(0.14,0.094),(0.147,-0.304),(0.151,0.515),(0.153,0.763),(0.156,-0.618),(0.16,0.023),(0.164,0.258),(0.166,-0.164),(0.17,0.656),(0.173,0.422),(0.177,0.117),(0.179,-0.07),(0.183,0.281),(0.186,0.515),(0.19,0.023),(0.192,-0.164),(0.196,0.164),(0.2,0.562),(0.203,0.351),(0.205,-0.023),(0.209,0.656),(0.212,0.094),(0.216,0.281),(0.218,0.468),(0.225,-0.141),(0.229,0.585),(0.231,0.164),(0.238,-0.632),(0.242,0.047),(0.244,0.703),(0.248,0.422),(0.252,0.749),(0.255,0.211),(0.26,0.0),(0.264,0.562),(0.27,0.351),(0.277,0.141),(0.283,0.258),(0.29,0.515),(0.294,0.562),(0.299,0.445),(0.303,0.187),(0.309,0.023),(0.313,0.351),(0.319,0.258),(0.329,0.445),(0.335,0.141),(0.342,0.187),(0.351,0.328),(0.358,0.445),(0.361,0.037),
(0.0,0.05),(0.02,-0.1),(0.04,0.2),(0.06,-0.05),(0.08,0.1),(0.1,-0.2),(0.12,0.25),(0.03,0.0),(0.05,-0.25),(0.07,0.3),(0.09,0.02),(0.11,-0.08),(0.13,0.12),(0.15,-0.12),(-0.02,0.15),(-0.04,-0.15),(-0.06,0.1),(-0.08,-0.3),(0.01,0.35),(0.14,0.4),(0.17,0.2),(0.19,0.35),(0.21,0.1),(0.23,0.3),(-0.1,0.0),(-0.12,-0.1),(0.05,0.1),(0.08,-0.35),(0.1,0.4),(0.02,0.25),
(-0.1,0.1),(-0.09,-0.2),(-0.08,0.3),(-0.07,-0.1),(-0.06,0.4),(-0.05,-0.35),(-0.05,0.0),(-0.04,0.25),(-0.03,-0.2),(-0.02,0.05),(-0.02,-0.5),(-0.01,0.35),(0.0,-0.15),(0.0,0.2),(0.01,-0.4),(0.01,0.1),(0.02,0.45),(0.02,-0.25),(0.03,0.15),(0.03,-0.05),(0.04,0.35),(0.04,-0.3),(0.05,0.0),(0.05,0.45),(0.06,-0.15),(0.06,0.2),(0.07,-0.4),(0.07,0.1),(0.08,0.35),(0.08,-0.05),(0.09,0.5),(0.09,-0.25),(0.1,0.15),(0.1,-0.1),(0.11,0.3),(0.11,-0.3),(0.12,0.05),(0.12,0.4),(0.13,-0.2),(0.13,0.2),(0.14,-0.05),(0.14,0.55),(0.15,0.3),(0.15,-0.25),(0.16,0.1),(0.16,0.45),(0.17,-0.1),(0.17,0.3),(0.18,0.0),(0.18,0.4),(0.19,0.15),(0.2,-0.05),(0.2,0.3),(0.21,0.45),(0.22,0.2),(0.22,-0.1),(0.23,0.4),(0.24,0.25),(0.25,0.1),(0.26,0.35),(0.27,0.45),(0.28,0.05),(0.3,0.3),(0.32,0.4),(-0.12,0.2),(-0.13,-0.3),(-0.14,0.35),(-0.15,-0.1),(-0.16,0.15),(-0.17,-0.45),(-0.18,0.3),(-0.19,-0.2),(-0.2,0.05),(-0.21,-0.35),(-0.22,0.2),(-0.23,-0.55),(-0.24,0.1),(-0.25,-0.25),(-0.27,0.0),(-0.28,-0.4),(-0.3,0.1),(-0.32,-0.2),(-0.35,-0.3),(0.0,0.0),(0.02,0.1),(0.04,-0.1),(0.06,0.05),(0.08,0.2),(0.1,0.0),(0.12,-0.15),(0.14,0.15),(0.16,-0.05),(0.03,0.25),(0.07,0.25),(0.11,0.1),(0.15,0.2),(0.05,-0.2),(0.09,-0.15),(-0.03,0.1),(-0.06,-0.05)]

f_pts = [(-0.759,-0.423),(-0.587,-0.204),(-0.579,-0.77),(-0.568,-0.901),(-0.568,-0.945),(-0.556,-0.77),(-0.541,-0.664),(-0.522,-0.526),(-0.518,-0.27),(-0.51,-0.471),(-0.513,-0.755),(-0.498,1.026),(-0.492,-0.635),(-0.487,-0.343),(-0.472,-0.361),(-0.456,-0.599),(-0.441,-0.58),(-0.426,-0.562),(-0.415,-0.252),(-0.41,-0.489),(-0.407,-0.416),(-0.406,-0.646),(-0.403,-0.106),(-0.395,-0.682),(-0.398,-0.865),(-0.393,-0.974),(-0.372,-0.5),(-0.364,-0.343),(-0.364,-0.88),(-0.352,-0.562),(-0.344,-0.464),(-0.338,-0.664),(-0.335,-0.062),(-0.326,-0.872),(-0.323,-0.489),(-0.318,-0.58),(-0.31,-0.343),(-0.306,-0.646),(-0.303,-0.416),(-0.301,0.095),(-0.3,0.15),(-0.298,-0.106),(-0.29,-0.745),(-0.288,-0.325),(-0.285,-0.464),(-0.28,-0.544),(-0.277,-0.215),(-0.272,-0.398),(-0.268,-0.58),(-0.261,0.022),(-0.257,-0.489),(-0.252,-0.69),(-0.249,-0.124),(-0.246,-0.288),(-0.241,-0.416),(-0.237,-0.544),(-0.234,-0.215),(-0.228,0.27),(-0.225,-0.361),(-0.218,-0.471),(-0.215,-0.682),(-0.212,-0.161),(-0.208,0.12),(-0.203,-0.58),(-0.2,-0.296),(-0.197,-0.106),(-0.194,-0.398),(-0.191,0.259),(-0.188,0.142),(-0.185,0.004),(-0.18,-0.179),(-0.175,0.339),(-0.172,-0.58),(-0.168,0.077),(-0.165,-0.27),(-0.16,-0.427),(-0.157,-0.051),(-0.152,0.296),(-0.149,-0.515),(-0.145,-0.215),(-0.142,0.223),(-0.137,-0.398),(-0.134,0.04),(-0.129,-0.599),(-0.126,-0.124),(-0.123,-0.489),(-0.119,0.15),(-0.114,-0.325),(-0.111,-0.051),(-0.108,-0.252),(-0.103,-0.453),(-0.099,0.095),(-0.096,0.332),(-0.093,-0.179),(-0.088,-0.38),(-0.085,0.376),(-0.08,-0.58),(-0.077,-0.033),(-0.073,-0.288),(-0.068,0.223),(-0.065,-0.106),(-0.062,-0.471),(-0.057,0.095),(-0.053,-0.215),(-0.05,0.288),(-0.047,-0.361),(-0.042,0.022),(-0.037,-0.161),(-0.034,0.186),(-0.031,-0.398),(-0.027,0.369),(-0.022,-0.051),(-0.019,-0.27),(-0.014,0.12),(-0.011,-0.106),(-0.007,0.259),(-0.004,-0.434),(0.0,0.04),(0.004,-0.245),(0.009,0.204),(0.012,-0.051),(0.015,0.544),(0.019,-0.471),(0.024,0.084),(0.027,-0.288),(0.03,0.314),(0.035,-0.106),(0.039,0.15),(0.042,0.478),(0.045,-0.179),(0.05,0.004),(0.055,0.551),(0.058,-0.398),(0.061,0.241),(0.065,-0.088),(0.07,0.113),(0.073,0.361),(0.076,-0.252),(0.081,0.04),(0.085,0.204),(0.088,0.496),(0.092,-0.142),(0.096,0.697),(0.101,0.095),(0.104,-0.325),(0.107,0.296),(0.111,-0.051),(0.116,0.423),(0.119,0.157),(0.122,-0.215),(0.127,0.004),(0.131,0.569),(0.134,0.223),(0.139,-0.088),(0.142,0.095),(0.147,0.332),(0.15,-0.215),(0.154,0.442),(0.157,0.04),(0.162,0.588),(0.165,0.186),(0.17,0.861),(0.173,-0.106),(0.177,0.277),(0.18,0.077),(0.185,0.405),(0.188,-0.252),(0.193,0.15),(0.196,0.314),(0.2,0.022),(0.204,0.496),(0.208,0.223),(0.211,0.777),(0.214,-0.106),(0.219,0.668),(0.223,0.332),(0.227,0.113),(0.231,0.405),(0.234,-0.088),(0.239,0.241),(0.242,0.496),(0.25,0.186),(0.257,0.734),(0.26,0.369),(0.265,0.077),(0.27,0.715),(0.273,0.277),(0.276,0.533),(0.28,0.186),(0.285,0.697),(0.288,0.223),(0.296,0.442),(0.303,0.606),(0.311,0.332),(0.316,0.204),(0.319,0.496),(0.326,0.558),(0.331,0.095),(0.337,0.369),(0.342,0.252),(0.346,0.193),(0.365,0.332),(0.385,0.704),(0.408,0.142),(0.416,0.259),(0.429,0.734),(0.426,0.204),(0.461,0.405),(0.48,0.467),(0.5,0.449),(-0.149,1.124),
(0.0,0.1),(0.02,0.0),(0.04,0.2),(0.06,0.08),(0.08,-0.05),(0.1,0.18),(0.12,0.12),(-0.02,0.05),(-0.04,-0.08),(0.03,0.28),(0.05,-0.15),(0.07,0.15),(0.09,0.25),(0.11,0.02),(0.13,0.3),(0.15,0.15),(-0.06,0.0),(-0.08,-0.12),(-0.1,-0.2),(0.01,-0.2),(0.14,-0.02),(0.17,0.35),(0.19,0.22),(0.21,0.28),(-0.01,0.22),(0.06,0.32),(0.08,0.12),(-0.12,-0.28),(-0.15,-0.35),(-0.2,-0.45),
(-0.15,-0.1),(-0.14,-0.3),(-0.13,-0.2),(-0.12,0.0),(-0.11,-0.35),(-0.1,-0.08),(-0.09,-0.25),(-0.08,0.05),(-0.07,-0.15),(-0.06,-0.32),(-0.05,0.1),(-0.05,-0.05),(-0.04,-0.2),(-0.03,0.05),(-0.03,-0.3),(-0.02,0.15),(-0.02,-0.12),(-0.01,-0.02),(0.0,0.25),(0.0,-0.15),(0.01,0.08),(0.01,-0.08),(0.02,0.18),(0.02,-0.3),(0.03,0.02),(0.03,0.12),(0.04,-0.05),(0.04,0.3),(0.05,0.15),(0.05,-0.2),(0.06,0.22),(0.06,-0.02),(0.07,0.05),(0.07,0.35),(0.08,-0.12),(0.08,0.25),(0.09,0.1),(0.09,0.4),(0.1,0.02),(0.1,0.3),(0.11,0.2),(0.11,-0.1),(0.12,0.35),(0.12,0.05),(0.13,0.15),(0.13,0.45),(0.14,0.25),(0.14,0.0),(0.15,0.38),(0.16,0.12),(0.16,0.3),(0.17,0.2),(0.18,0.45),(0.18,0.05),(0.19,0.32),(0.2,0.15),(0.2,0.4),(0.21,0.25),(0.22,0.5),(0.22,0.08),(0.23,0.3),(0.24,0.18),(0.25,0.4),(0.26,0.28),(0.27,0.55),(0.28,0.35),(0.29,0.25),(0.3,0.45),(0.32,0.3),(0.34,0.42),(-0.16,-0.2),(-0.17,-0.45),(-0.18,-0.05),(-0.19,-0.3),(-0.2,-0.15),(-0.21,-0.4),(-0.22,-0.25),(-0.23,-0.5),(-0.24,-0.35),(-0.25,-0.2),(-0.26,-0.45),(-0.27,-0.3),(-0.28,-0.6),(-0.3,-0.5),(-0.32,-0.4),(-0.34,-0.55),(-0.36,-0.45),(0.0,0.05),(0.02,0.1),(0.04,0.15),(0.06,0.1),(0.08,0.05),(0.1,0.15),(0.12,0.2),(0.14,0.1),(-0.04,-0.1),(-0.02,0.0),(0.03,0.2),(0.07,0.18),(0.11,0.08)]

x_ticks = [[-0.6, -0.4, -0.2, 0.0, 0.2, 0.4], [-0.6, -0.4, -0.2, 0.0, 0.2, 0.4],
           [-0.6, -0.4, -0.2, 0.0, 0.2], [-0.6, -0.4, -0.2, 0.0, 0.2, 0.4],
           [-0.6, -0.4, -0.2, 0.0, 0.2, 0.4], [-0.8, -0.6, -0.4, -0.2, 0.0, 0.2, 0.4]]
y_ticks = [[-0.3, -0.2, -0.1, 0.0, 0.1, 0.2], [-0.2, -0.1, 0.0, 0.1, 0.2, 0.3, 0.4],
           [-0.6, -0.4, -0.2, 0.0, 0.2, 0.4], [-1.0, -0.8, -0.6, -0.4, -0.2, 0.0, 0.2, 0.4],
           [-1.0, -0.5, 0.0, 0.5, 1.0, 1.5], [-1.0, -0.5, 0.0, 0.5, 1.0]]
# ticks drawn without a label (as R drops overlapping labels)
y_unlabeled = [[], [], [], [0.4, 0.0, -0.4, -0.8], [], []]

all_pts = [a_pts, b_pts, c_pts, d_pts, e_pts, f_pts]

# ---------------- layout / styling ----------------
FONT = "Liberation Sans"
x_ranges = [(-0.746, 0.404), (-0.747, 0.4066), (-0.665, 0.395), (-0.623, 0.4035), (-0.746, 0.404), (-0.806, 0.553)]
y_ranges = [(-0.3145, 0.287), (-0.2006, 0.4086), (-0.743, 0.448), (-1.055, 0.448), (-1.204, 1.719), (-1.062, 1.215)]
r_pos = [(-0.621, 0.218), (-0.621, 0.317), (-0.5705, 0.291), (-0.5416, 0.309), (-0.621, 1.265), (-0.681, 0.789)]

row_h = [330, 330, 315]
row_top = [37, 52, 60]
row_bottom = [86, 71, 49]
row_title_sd = [18, 24, 15]     # gap between the frame and the panel title
row_xlab_sd = [13, 13, 5]
col_w = [375, 358]
col_left = [59, 66]
col_right = [21, 9]
col_ylab_sd = [17, 12]


def make_panel(i):
    r, c = divmod(i, 2)
    w, bl, br = col_w[c], col_left[c], col_right[c]
    h, bt, bb = row_h[r], row_top[r], row_bottom[r]
    x0, x1 = x_ranges[i]
    y0, y1 = y_ranges[i]
    pts = all_pts[i]
    xs = [p[0] for p in pts]
    ys = [p[1] for p in pts]
    p = figure(width=w, height=h, x_range=Range1d(x0, x1), y_range=Range1d(y0, y1),
               output_backend="svg", toolbar_location=None,
               min_border_left=bl, min_border_right=br, min_border_top=bt, min_border_bottom=bb)
    p.background_fill_color = "white"
    p.border_fill_color = "white"
    p.outline_line_color = "#555555"
    p.outline_line_width = 1
    p.xgrid.visible = False
    p.ygrid.visible = False

    p.scatter(xs, ys, size=6.5, fill_color="#0000ff", fill_alpha=0.5, line_color=None)
    b0, b1 = fits[i]
    p.add_layout(Slope(gradient=b1, y_intercept=b0, line_color="black", line_width=3.5))
    p.add_layout(Label(x=r_pos[i][0], y=r_pos[i][1], text=r_values[i], text_align="center",
                       text_baseline="middle", text_font=FONT, text_font_size="18px", text_color="black"))

    xa = p.below[0]
    ya = p.left[0]
    for ax, ticks, lab in ((xa, x_ticks[i], x_labels[i]), (ya, y_ticks[i], y_labels[i])):
        ax.ticker = FixedTicker(ticks=ticks)
        ax.formatter = PrintfTickFormatter(format="%.1f")
        ax.axis_line_color = None
        ax.major_tick_line_color = "#555555"
        ax.major_tick_out = 7
        ax.major_tick_in = 0
        ax.minor_tick_line_color = None
        ax.major_label_text_font = FONT
        ax.major_label_text_font_size = "12px"
        ax.major_label_text_color = "black"
        ax.axis_label = lab
        ax.axis_label_text_font = FONT
        ax.axis_label_text_font_size = "12px"
        ax.axis_label_text_font_style = "normal"
        ax.axis_label_text_color = "black"
    xa.major_label_standoff = 10
    xa.axis_label_standoff = row_xlab_sd[r]
    ya.major_label_standoff = 11
    ya.major_label_orientation = "vertical"
    ya.axis_label_standoff = col_ylab_sd[c]
    if y_unlabeled[i]:
        ya.major_label_overrides = {t: " " for t in y_unlabeled[i]}

    # panel title: label of a tick-less axis above the plotting region
    tax = LinearAxis(ticker=FixedTicker(ticks=[]), axis_label=titles[i])
    tax.axis_line_color = None
    tax.major_tick_line_color = None
    tax.minor_tick_line_color = None
    tax.major_tick_out = 0
    tax.minor_tick_out = 0
    tax.major_label_standoff = 0
    tax.axis_label_standoff = row_title_sd[r]
    tax.axis_label_text_font = FONT
    tax.axis_label_text_font_size = "14px"
    tax.axis_label_text_font_style = "bold"
    tax.axis_label_text_color = "black"
    p.add_layout(tax, "above")
    return p


panels = [make_panel(i) for i in range(6)]
layout = column(row(panels[0], panels[1]), row(panels[2], panels[3]), row(panels[4], panels[5]))

open("out.html", "w").write(file_html(layout, INLINE))
